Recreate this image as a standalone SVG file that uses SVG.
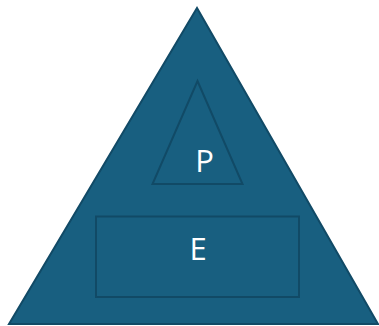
<svg xmlns="http://www.w3.org/2000/svg" width="379" height="326" viewBox="0 0 379 326">
<style>
.shape{fill:#185f80;stroke:#114a66;stroke-width:2}
.lbl{fill:#ffffff;font-family:"Open Sans",sans-serif;font-size:31px;text-anchor:middle}
</style>
<g id="outer"><polygon class="shape" points="197,8 378,324 9,324"/></g>
<g id="P"><polygon class="shape" points="197.5,81 242.5,184 152.5,184"/><text class="lbl" x="204.7" y="172">P</text></g>
<g id="E"><rect class="shape" x="96" y="216.5" width="203" height="80.5"/><text class="lbl" x="198" y="259.5">E</text></g>
<g id="connectors"/>
</svg>
